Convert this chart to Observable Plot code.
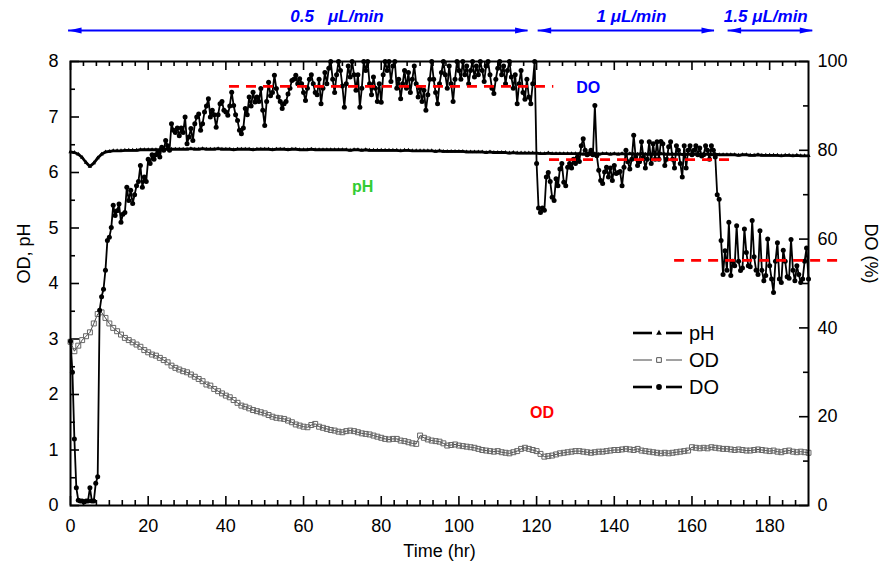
<!DOCTYPE html>
<html><head><meta charset="utf-8">
<script src="https://cdn.jsdelivr.net/npm/d3@7"></script>
<script src="https://cdn.jsdelivr.net/npm/@observablehq/plot@0.6"></script>
<style>
html,body{margin:0;padding:0;background:#fff;}
#chart{position:relative;width:887px;height:581px;}
#chart svg text{white-space:pre;}
</style></head><body><div id="chart"></div>
<script>
// ---------------- DATA ----------------
// OD (left axis), hourly samples from t = 0 h to 190 h
const odValues = [
  2.95, 2.78, 2.88, 2.98, 3.05, 3.12, 3.28, 3.45, 3.48, 3.38,
  3.28, 3.2, 3.14, 3.08, 3.02, 2.98, 2.94, 2.9, 2.86, 2.8,
  2.76, 2.72, 2.7, 2.66, 2.62, 2.58, 2.52, 2.48, 2.45, 2.42,
  2.4, 2.36, 2.32, 2.28, 2.24, 2.18, 2.16, 2.1, 2.06, 2.02,
  1.98, 1.95, 1.9, 1.85, 1.8, 1.78, 1.75, 1.72, 1.7, 1.68,
  1.66, 1.63, 1.6, 1.58, 1.57, 1.56, 1.53, 1.5, 1.46, 1.44,
  1.42, 1.41, 1.45, 1.47, 1.42, 1.4, 1.38, 1.36, 1.35, 1.33,
  1.32, 1.34, 1.35, 1.34, 1.32, 1.3, 1.29, 1.28, 1.26, 1.24,
  1.22, 1.2, 1.19, 1.2, 1.2, 1.17, 1.16, 1.14, 1.12, 1.11,
  1.26, 1.22, 1.19, 1.17, 1.16, 1.15, 1.12, 1.08, 1.09, 1.1,
  1.08, 1.07, 1.06, 1.05, 1.04, 1.02, 1.0, 0.99, 0.98, 0.97,
  0.98, 0.96, 0.95, 0.94, 0.96, 0.98, 1.02, 1.04, 1.02, 1.0,
  0.98, 0.93, 0.88, 0.89, 0.9, 0.92, 0.94, 0.95, 0.96, 0.97,
  0.98, 0.98, 0.97, 0.96, 0.95, 0.96, 0.97, 0.97, 0.98, 0.99,
  1.0, 1.0, 1.01, 1.02, 1.01, 1.0, 1.02, 0.99, 0.98, 0.97,
  0.96, 0.95, 0.94, 0.95, 0.94, 0.95, 0.96, 0.97, 0.98, 0.99,
  1.05, 1.04, 1.03, 1.04, 1.03, 1.05, 1.04, 1.03, 1.02, 1.02,
  1.01, 1.0, 1.01, 1.0, 0.99, 0.99, 1.0, 1.01, 1.0, 0.99,
  0.98, 0.99, 0.97, 0.96, 0.98, 0.99, 0.97, 0.96, 0.97, 0.96,
  0.95
];
// pH (left axis), hourly samples from t = 0 h to 190 h
const phValues = [
  6.37, 6.36, 6.33, 6.27, 6.18, 6.11, 6.17, 6.26, 6.33, 6.37,
  6.38, 6.39, 6.39, 6.39, 6.40, 6.40, 6.40, 6.40, 6.41, 6.41,
  6.41, 6.41, 6.41, 6.41, 6.42, 6.42, 6.42, 6.42, 6.42, 6.42,
  6.42, 6.43, 6.42, 6.42, 6.43, 6.42, 6.42, 6.42, 6.43, 6.42,
  6.42, 6.42, 6.41, 6.42, 6.42, 6.42, 6.42, 6.41, 6.42, 6.42,
  6.42, 6.42, 6.41, 6.42, 6.42, 6.42, 6.41, 6.42, 6.42, 6.41,
  6.41, 6.41, 6.42, 6.41, 6.41, 6.41, 6.41, 6.41, 6.41, 6.41,
  6.41, 6.41, 6.40, 6.41, 6.41, 6.40, 6.41, 6.40, 6.40, 6.40,
  6.40, 6.40, 6.40, 6.40, 6.40, 6.39, 6.40, 6.40, 6.39, 6.39,
  6.39, 6.39, 6.39, 6.39, 6.38, 6.39, 6.38, 6.38, 6.38, 6.38,
  6.38, 6.38, 6.37, 6.37, 6.37, 6.37, 6.37, 6.36, 6.37, 6.36,
  6.36, 6.36, 6.36, 6.35, 6.36, 6.35, 6.35, 6.35, 6.35, 6.35,
  6.35, 6.34, 6.34, 6.35, 6.34, 6.34, 6.34, 6.34, 6.34, 6.34,
  6.34, 6.34, 6.33, 6.34, 6.34, 6.34, 6.33, 6.34, 6.34, 6.33,
  6.34, 6.33, 6.34, 6.33, 6.34, 6.33, 6.33, 6.34, 6.33, 6.33,
  6.33, 6.33, 6.34, 6.33, 6.33, 6.33, 6.33, 6.33, 6.32, 6.33,
  6.33, 6.33, 6.32, 6.33, 6.33, 6.32, 6.33, 6.32, 6.32, 6.32,
  6.32, 6.32, 6.31, 6.32, 6.32, 6.31, 6.31, 6.32, 6.31, 6.31,
  6.31, 6.31, 6.31, 6.30, 6.31, 6.31, 6.30, 6.31, 6.30, 6.30,
  6.30
];
// DO (%) (right axis), samples every 0.5 h from t = 0 h to 190 h (one row = 10 h)
const doValues = [
  37, 30, 15, 4, 1.2, 1, 1, 0.8, 1, 1, 4, 1, 1, 5, 6.5, 44, 47, 48.7, 53, 59.7,
  60.4, 62.6, 67.6, 65.3, 66.4, 67.9, 63.8, 65.6, 66, 71.7, 68.7, 71, 68, 70, 72, 73, 76.6, 71.7, 74, 73,
  78, 77, 79, 78, 79, 79.6, 78.5, 80.7, 80, 82.2, 81, 80, 86, 84.5, 84, 85, 83.3, 85, 84, 87.5,
  81.5, 83, 84.9, 82.2, 86, 87.5, 88.2, 84.5, 86, 88.6, 90, 91.6, 87.5, 89, 88, 85.2, 88, 90.5, 91, 89,
  88.6, 87.9, 90, 93.1, 90.1, 88, 86.7, 84.5, 83.7, 85, 89.4, 88, 92, 90, 93.1, 90.9, 92, 91, 93.9, 89,
  85.6, 91, 95.3, 92.3, 93, 96.9, 93.9, 92, 91, 89.4, 90.5, 91, 92.7, 94, 95.7, 96, 96.9, 95, 96.1, 95,
  93, 91.2, 94, 96, 97, 95, 93, 92.5, 96, 90.5, 94, 97.5, 95, 98.5, 100, 96, 93, 97, 100, 98,
  94.5, 89.7, 95, 99, 96.5, 100, 97, 93.5, 97, 89.7, 94, 100, 98, 100, 95, 92.5, 96.5, 94, 91, 95,
  90.8, 97, 100, 98, 100, 95.5, 99, 100, 94, 96, 91.6, 95, 98, 94, 97.5, 93, 96, 99, 95, 92,
  94, 91, 93.5, 89, 92.5, 96, 100, 96, 93, 90.5, 95, 97.5, 100, 97, 94, 99, 95, 91, 96, 100,
  98, 96, 100, 97, 99, 95, 98, 100, 96.5, 99, 97, 100, 98, 95.5, 99, 100, 97, 94, 92.8, 96,
  98.5, 100, 97, 99, 95, 98, 100, 96.5, 94, 97, 90.5, 95, 98, 93, 91.5, 96, 92, 90.5, 95, 100,
  77, 67, 66, 67, 66.5, 74, 75, 73, 69.4, 68.7, 73.6, 72, 75.8, 77, 72.8, 72, 76.2, 77, 76, 78,
  77, 78.5, 77.5, 81, 82.6, 80, 79, 79.2, 80, 79, 90.1, 78.8, 75.5, 73.2, 72.5, 75.1, 76.2, 74, 76, 73.2,
  76.6, 74.8, 75, 75.2, 72, 76.2, 80, 77.4, 75.8, 78, 83.4, 78.5, 76.6, 77.4, 81.9, 78.5, 76, 78, 81.9, 77,
  81.5, 78, 81.9, 78, 82, 81.5, 76.6, 78, 80.8, 81.9, 78, 76, 81, 80, 77, 74, 81, 76, 80, 81,
  79, 80, 81, 79, 80.5, 78.7, 79, 81, 80, 78, 81, 80, 78.5, 70, 69, 59.7, 52, 57.4, 53, 63.8,
  51.8, 55, 54, 63, 55, 52.9, 53.5, 62.3, 57, 54, 53.8, 64.2, 56, 53, 52, 61.9, 53, 50.6, 51.8, 60,
  54, 51, 48, 55, 59.2, 51, 50.2, 57.5, 55, 51.5, 51.2, 59.9, 53, 50.6, 54, 52, 50.2, 51, 55, 58,
  51
];
// mean DO levels for each flow rate (red dashed guides)
const doTargets = [
  {start: 40.8, end: 124.3, level: 94.4},
  {start: 123.2, end: 170.1, level: 77.9},
  {start: 155.4, end: 198.7, level: 55.2}
];
// flow-rate periods (top arrows)
const flowSpans = [
  {start: -0.5, end: 117.8, label: "0.5   μL/min"},
  {start: 120.4, end: 165.8, label: "1 μL/min"},
  {start: 169.3, end: 191.1, label: "1.5 μL/min"}
];
const seriesNames = ["pH", "OD", "DO"];
const xTickLabels = [0, 20, 40, 60, 80, 100, 120, 140, 160, 180];
const yTickLabels = [0, 1, 2, 3, 4, 5, 6, 7, 8];
const doTickLabels = [0, 20, 40, 60, 80, 100];

// ---------------- LAYOUT ----------------
const W = 887, H = 581, ML = 70, MR = 79, MT = 61, MB = 76;
const PW = W - ML - MR, PH = H - MT - MB;
const DO_SCALE = 12.5;            // 100 % DO  <->  8 on the left axis
const FLOW_Y = 8.56, FLOW_LABEL_Y = 8.81;
const flowLabelX = [68.6, 144.4, 179];
const seriesLabelPos = {pH: [75.2, 5.75, "#33cc33"], OD: [121.4, 1.66, "#ff0000"], DO: [133.3, 7.52, "#0000ff"]};

const odData = odValues.map((v, i) => ({t: i, v}));
const phData = phValues.map((v, i) => ({t: i, v}));
const doData = doValues.map((v, i) => ({t: i * 0.5, v}));

const xMinor = d3.range(0, 190, 10 / 3).filter(d => Math.abs(d / 20 - Math.round(d / 20)) > 1e-6);
const yMinor = d3.range(0.5, 8, 1);
const doMinor = [10, 30, 50, 70, 90];

const headRight = {draw(c) { c.moveTo(0, 0); c.lineTo(-13, -3); c.lineTo(-13, 3); c.closePath(); }};
const headLeft = {draw(c) { c.moveTo(0, 0); c.lineTo(13, -3); c.lineTo(13, 3); c.closePath(); }};
const blue = "#0000ff";

const chart = Plot.plot({
  width: W, height: H, marginTop: MT, marginRight: MR, marginBottom: MB, marginLeft: ML,
  style: {fontFamily: "'Liberation Sans', Arial, sans-serif", fontSize: "18px", background: "#fff", overflow: "visible", color: "black"},
  x: {domain: [0, 190]},
  y: {domain: [0, 8]},
  marks: [
    // inward ticks
    Plot.ruleX(xTickLabels, {x: d => d, insetTop: PH - 9, strokeWidth: 1.6}),
    Plot.ruleX(xMinor, {x: d => d, insetTop: PH - 5, strokeWidth: 1.6}),
    Plot.ruleX(xTickLabels, {x: d => d, insetBottom: PH - 9, strokeWidth: 1.6}),
    Plot.ruleX(xMinor, {x: d => d, insetBottom: PH - 5, strokeWidth: 1.6}),
    Plot.ruleY(yTickLabels, {y: d => d, insetRight: PW - 9, strokeWidth: 1.6}),
    Plot.ruleY(yMinor, {y: d => d, insetRight: PW - 5, strokeWidth: 1.6}),
    Plot.ruleY(doTickLabels, {y: d => d / DO_SCALE, insetLeft: PW - 9, strokeWidth: 1.6}),
    Plot.ruleY(doMinor, {y: d => d / DO_SCALE, insetLeft: PW - 5, strokeWidth: 1.6}),
    // tick labels
    Plot.axisX({ticks: xTickLabels, tickSize: 0, tickPadding: 14, label: null}),
    Plot.axisY({anchor: "left", ticks: yTickLabels, tickSize: 0, tickPadding: 12, label: null}),
    Plot.axisY({anchor: "right", ticks: doTickLabels.map(d => d / DO_SCALE), tickFormat: d => String(Math.round(d * DO_SCALE)), tickSize: 0, tickPadding: 9, label: null}),
    // axis titles
    Plot.text(["OD, pH"], {frameAnchor: "left", dx: -46, rotate: -90, fontSize: 18}),
    Plot.text(["Time (hr)"], {frameAnchor: "bottom", dy: 51, fontSize: 18}),
    Plot.text(["DO (%)"], {frameAnchor: "right", dx: 62, rotate: 90, fontSize: 18}),
    // OD series
    Plot.line(odData, {x: "t", y: "v", stroke: "#333", strokeWidth: 0.9}),
    Plot.dot(odData, {x: "t", y: "v", symbol: "square", r: 2.8, stroke: "#666", strokeWidth: 1, fill: "none"}),
    // pH series
    Plot.line(phData, {x: "t", y: "v", stroke: "black", strokeWidth: 2.8}),
    Plot.dot(phData, {x: "t", y: "v", symbol: "triangle", r: 1.6, fill: "black"}),
    // DO series
    Plot.line(doData, {x: "t", y: d => d.v / DO_SCALE, stroke: "black", strokeWidth: 1.8}),
    Plot.dot(doData, {x: "t", y: d => d.v / DO_SCALE, r: 2.5, fill: "black"}),
    // mean DO guides
    Plot.link(doTargets, {x1: "start", x2: "end", y1: d => d.level / DO_SCALE, y2: d => d.level / DO_SCALE, stroke: "#ff0000", strokeWidth: 2.6, strokeDasharray: "10,7"}),
    // flow-rate arrows
    Plot.ruleY(flowSpans, {y: () => FLOW_Y, x1: "start", x2: "end", stroke: blue, strokeWidth: 2}),
    Plot.dot(flowSpans, {x: "start", y: () => FLOW_Y, symbol: headLeft, fill: blue}),
    Plot.dot(flowSpans, {x: "end", y: () => FLOW_Y, symbol: headRight, fill: blue}),
    Plot.text(flowSpans, {x: (d, i) => flowLabelX[i], y: () => FLOW_LABEL_Y, text: "label", fill: blue, fontWeight: "bold", fontStyle: "italic", fontSize: 17}),
    // series labels
    Plot.text(seriesNames, {x: d => seriesLabelPos[d][0], y: d => seriesLabelPos[d][1], fill: d => seriesLabelPos[d][2], fontWeight: "bold", fontSize: 16}),
    Plot.frame({stroke: "black", strokeWidth: 2})
  ]
});
document.getElementById("chart").appendChild(chart);

// ---------------- LEGEND ----------------
const lg = d3.select(chart).append("g")
  .attr("font-family", "'Liberation Sans', Arial, sans-serif")
  .attr("text-anchor", "start");
const legendStyle = {
  pH: {w: 2.6, c: "black", sym: d3.symbolTriangle, fill: "black", stroke: "none", size: 14},
  OD: {w: 1, c: "#444", sym: d3.symbolSquare, fill: "white", stroke: "#555", size: 22},
  DO: {w: 2.6, c: "black", sym: d3.symbolCircle, fill: "black", stroke: "none", size: 26}
};
seriesNames.forEach((name, i) => {
  const y = 333 + i * 27, s = legendStyle[name];
  lg.append("line").attr("x1", 633).attr("x2", 652).attr("y1", y).attr("y2", y).attr("stroke", s.c).attr("stroke-width", s.w);
  lg.append("line").attr("x1", 666).attr("x2", 682).attr("y1", y).attr("y2", y).attr("stroke", s.c).attr("stroke-width", s.w);
  lg.append("path").attr("d", d3.symbol(s.sym, s.size)()).attr("transform", `translate(659,${y})`).attr("fill", s.fill).attr("stroke", s.stroke);
  lg.append("text").attr("x", 689).attr("y", y).attr("dy", "0.36em").attr("font-size", 20).attr("fill", "black").text(name);
});
</script></body></html>
